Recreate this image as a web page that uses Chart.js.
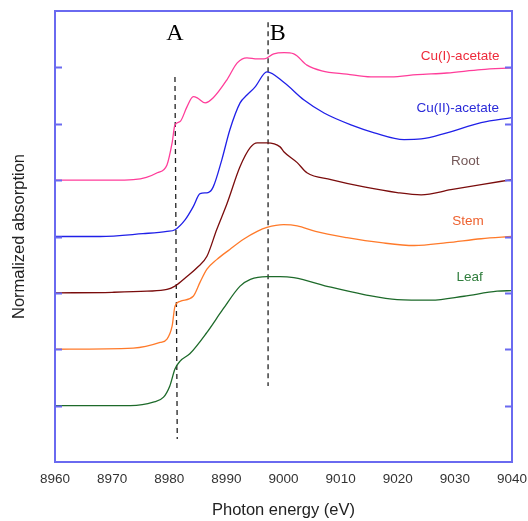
<!DOCTYPE html>
<html>
<head>
<meta charset="utf-8">
<script src="https://cdn.jsdelivr.net/npm/chart.js@4/dist/chart.umd.min.js"></script>
<style>
  html, body { margin: 0; padding: 0; background: #fff; }
  #wrap { width: 528px; height: 521px; }
</style>
</head>
<body>
<div id="wrap"><canvas id="xanes"></canvas></div>
<script>
// spectra (offset, normalized units)
const cu1Energy = [8960, 8970, 8973.7, 8976, 8977.9, 8979.6, 8980.5, 8981.0, 8981.9, 8983.1, 8984.2, 8984.9, 8986.3, 8987.7, 8990.1, 8991.9, 8993.6, 8995.4, 8996.6, 8998.3, 9000.1, 9001.8, 9004.1, 9006.7, 9011.1, 9015.3, 9018.8, 9023.4, 9028.6, 9034.6, 9040];
const cu1Abs    = [5.0, 5.0, 5.01, 5.05, 5.13, 5.27, 5.66, 5.98, 6.04, 6.30, 6.48, 6.46, 6.37, 6.46, 6.78, 7.08, 7.17, 7.15, 7.15, 7.24, 7.26, 7.24, 7.04, 6.94, 6.88, 6.83, 6.83, 6.87, 6.90, 6.96, 6.99];

const cu2Energy = [8960, 8967.9, 8975.4, 8979.6, 8981.0, 8982.8, 8984.2, 8985.4, 8986.8, 8987.7, 8989.2, 8990.6, 8992.4, 8993.6, 8995.0, 8997.1, 9000.1, 9003.6, 9007.1, 9011.8, 9015.9, 9021.1, 9024.1, 9028.6, 9034.6, 9040];
const cu2Abs    = [4.0, 4.0, 4.05, 4.09, 4.12, 4.30, 4.53, 4.76, 4.78, 4.88, 5.36, 5.89, 6.37, 6.51, 6.65, 6.92, 6.73, 6.42, 6.19, 5.98, 5.84, 5.72, 5.73, 5.84, 6.02, 6.11];

const rootEnergy = [8960, 8970, 8976.1, 8979.6, 8981.0, 8983.1, 8984.9, 8986.6, 8988.3, 8990.1, 8992.4, 8994.2, 8995.4, 8997.1, 8999.4, 9000.1, 9002.4, 9004.1, 9008.3, 9014.1, 9019.9, 9024.1, 9029.3, 9034.6, 9040];
const rootAbs    = [3.0, 3.01, 3.03, 3.06, 3.12, 3.29, 3.45, 3.65, 4.12, 4.58, 5.24, 5.58, 5.66, 5.66, 5.59, 5.50, 5.31, 5.13, 5.01, 4.88, 4.78, 4.74, 4.83, 4.92, 5.01];

const stemEnergy = [8960, 8973.7, 8978.4, 8979.6, 8980.5, 8981.0, 8981.9, 8984.2, 8985.4, 8986.6, 8988.3, 8990.6, 8993.0, 8995.4, 8997.1, 9000.0, 9002.4, 9005.6, 9011.1, 9017.1, 9022.9, 9028.6, 9034.6, 9040];
const stemAbs    = [2.0, 2.02, 2.12, 2.18, 2.41, 2.76, 2.85, 2.94, 3.19, 3.42, 3.59, 3.77, 3.95, 4.09, 4.16, 4.21, 4.19, 4.09, 3.98, 3.89, 3.84, 3.89, 3.96, 4.0];

const leafEnergy = [8960, 8973.2, 8977.2, 8979.0, 8980.1, 8981.0, 8981.9, 8983.6, 8986.6, 8989.4, 8992.4, 8994.2, 8997.1, 8999.4, 9001.8, 9008.3, 9014.1, 9019.9, 9025.8, 9031.6, 9037.4, 9040];
const leafAbs    = [1.0, 1.0, 1.06, 1.15, 1.35, 1.65, 1.79, 1.92, 2.30, 2.71, 3.12, 3.24, 3.29, 3.29, 3.27, 3.10, 2.97, 2.88, 2.87, 2.94, 3.03, 3.04];

// dashed guide lines A and B
const markA = { energy: [8981.0, 8981.4], abs: [6.83, 0.41] };
const markB = { energy: [8997.3, 8997.3], abs: [7.8, 1.35] };

const sampleNames = ["Cu(I)-acetate", "Cu(II)-acetate", "Root", "Stem", "Leaf"];
const xTicks = [8960, 8970, 8980, 8990, 9000, 9010, 9020, 9030, 9040];

const AXIS_BLUE = "#6a6af0";

function pts(xs, ys) {
    return xs.map((x, i) => ({ x: x, y: ys[i] }));
}

function curve(label, xs, ys, color) {
    return {
        label: label,
        data: pts(xs, ys),
        borderColor: color,
        borderWidth: 1.3,
        pointRadius: 0,
        cubicInterpolationMode: "monotone",
        fill: false,
    };
}

function guide(m) {
    return {
        label: "",
        data: pts(m.energy, m.abs),
        borderColor: "#222",
        borderWidth: 1.3,
        borderDash: [5, 4],
        pointRadius: 0,
        fill: false,
    };
}

// text placed in data coordinates
const notes = [
    { text: "A", x: 8981.0, y: 7.59, color: "#000", font: "24px 'Liberation Serif'" },
    { text: "B", x: 8999.0, y: 7.59, color: "#000", font: "24px 'Liberation Serif'" },
    { text: sampleNames[0], x: 9030.9, y: 7.20, color: "#ee2a3a", font: "13.5px 'Liberation Sans'" },
    { text: sampleNames[1], x: 9030.5, y: 6.28, color: "#2a2ad8", font: "13.5px 'Liberation Sans'" },
    { text: sampleNames[2], x: 9031.8, y: 5.33, color: "#745858", font: "13.5px 'Liberation Sans'" },
    { text: sampleNames[3], x: 9032.3, y: 4.27, color: "#ee6230", font: "13.5px 'Liberation Sans'" },
    { text: sampleNames[4], x: 9032.6, y: 3.27, color: "#2f7d3c", font: "13.5px 'Liberation Sans'" },
];

const framePlugin = {
    id: "frame",
    afterDatasetsDraw(chart) {
        const { ctx, chartArea: a, scales } = chart;
        ctx.save();
        ctx.strokeStyle = AXIS_BLUE;
        ctx.lineWidth = 2;
        ctx.strokeRect(a.left, a.top, a.right - a.left, a.bottom - a.top);
        // inward ticks on both y sides
        scales.y.ticks.forEach(t => {
            if (t.value <= scales.y.min || t.value >= scales.y.max) return;
            const py = Math.round(scales.y.getPixelForValue(t.value)) + 0.5;
            ctx.beginPath();
            ctx.moveTo(a.left, py); ctx.lineTo(a.left + 7, py);
            ctx.moveTo(a.right, py); ctx.lineTo(a.right - 7, py);
            ctx.stroke();
        });
        ctx.textAlign = "center";
        ctx.textBaseline = "middle";
        notes.forEach(n => {
            ctx.font = n.font;
            ctx.fillStyle = n.color;
            ctx.fillText(n.text, scales.x.getPixelForValue(n.x), scales.y.getPixelForValue(n.y));
        });
        ctx.restore();
    }
};

function initChart() {
    const el = document.getElementById("xanes");
    new Chart(el, {
        type: "line",
        data: {
            datasets: [
                curve(sampleNames[0], cu1Energy, cu1Abs, "#ff3d9a"),
                curve(sampleNames[1], cu2Energy, cu2Abs, "#2020e8"),
                curve(sampleNames[2], rootEnergy, rootAbs, "#7a0c0c"),
                curve(sampleNames[3], stemEnergy, stemAbs, "#ff7a2a"),
                curve(sampleNames[4], leafEnergy, leafAbs, "#1d6a2a"),
                guide(markA),
                guide(markB),
            ],
        },
        options: {
            responsive: true,
            maintainAspectRatio: false,
            animation: false,
            layout: { padding: { top: 11, right: 16, left: 0, bottom: 0 } },
            plugins: {
                legend: { display: false },
                tooltip: { enabled: false },
            },
            scales: {
                x: {
                    type: "linear",
                    min: 8960,
                    max: 9040,
                    afterBuildTicks: s => { s.ticks = xTicks.map(v => ({ value: v })); },
                    afterFit: s => { s.height = 59; s.paddingLeft = 0; s.paddingRight = 0; },
                    grid: { display: false, drawTicks: false },
                    border: { display: false },
                    ticks: {
                        padding: 9,
                        color: "#333",
                        font: { family: "'Liberation Sans'", size: 13.5 },
                        callback: v => String(v),
                    },
                    title: {
                        display: true,
                        text: "Photon energy (eV)",
                        color: "#222",
                        font: { family: "'Liberation Sans'", size: 16.5 },
                        padding: { top: 0, bottom: 1 },
                    },
                },
                y: {
                    min: 0,
                    max: 8,
                    ticks: { stepSize: 1, display: false },
                    afterFit: s => { s.width = 55; },
                    grid: { display: false, drawTicks: false },
                    border: { display: false },
                    title: {
                        display: true,
                        text: "Normalized absorption",
                        color: "#222",
                        font: { family: "'Liberation Sans'", size: 16.5 },
                        padding: { top: 10, bottom: 0 },
                    },
                },
            },
        },
        plugins: [framePlugin],
    });
}

document.addEventListener("DOMContentLoaded", initChart);
</script>
</body>
</html>
